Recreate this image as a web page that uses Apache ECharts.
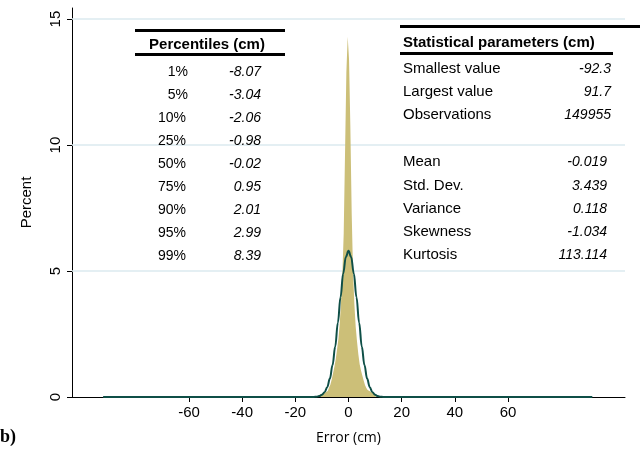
<!DOCTYPE html>
<html>
<head>
<meta charset="utf-8">
<script src="https://cdn.jsdelivr.net/npm/echarts@6/dist/echarts.min.js"></script>
<style>
html, body { margin: 0; padding: 0; background: #fff; }
#chart { width: 640px; height: 453px; }
</style>
</head>
<body>
<div id="chart"></div>
<script>
// histogram: bin centres (cm) and percent per 0.5 cm bin
const histX = [-12.05, -11.55, -11.05, -10.55, -10.05, -9.55, -9.05, -8.55, -8.05, -7.55, -7.05, -6.55, -6.05,
  -5.55, -5.05, -4.55, -4.05, -3.55, -3.05, -2.55, -2.05, -1.55, -1.05, -0.55, -0.05,
  0.45, 0.95, 1.45, 1.95, 2.45, 2.95, 3.45, 3.95, 4.45, 4.95, 5.45, 5.95, 6.45, 6.95,
  7.45, 7.95, 8.45, 8.95, 9.45, 9.95, 10.45, 10.95, 11.45, 11.95];
const histPct = [0, 0.06, 0.08, 0.1, 0.12, 0.14, 0.17, 0.2, 0.24, 0.3, 0.38, 0.5, 0.7,
  0.95, 1.2, 1.5, 1.9, 2.3, 2.9, 3.8, 4.9, 6.5, 9.7, 12.9, 14.3,
  13.4, 10.7, 7.3, 5.0, 3.7, 2.8, 2.2, 1.7, 1.3, 1.05, 0.85, 0.65, 0.48, 0.36,
  0.28, 0.22, 0.18, 0.15, 0.12, 0.1, 0.08, 0.06, 0.05, 0];

// normal density overlay
const normX = [-92.3, -14, -13, -12, -11, -10, -9, -8, -7, -6, -5, -4, -3, -2, -1, 0,
  1, 2, 3, 4, 5, 6, 7, 8, 9, 10, 11, 12, 13, 14, 91.7];
const normPct = [0, 0, 0.004, 0.013, 0.035, 0.085, 0.19, 0.39, 0.73, 1.27, 2.0, 2.95, 3.96, 4.9, 5.56, 5.8,
  5.56, 4.9, 3.96, 2.95, 2.0, 1.27, 0.73, 0.39, 0.19, 0.085, 0.035, 0.013, 0.004, 0, 0];

const xTicks = [-60, -40, -20, 0, 20, 40, 60];
const yTicks = [0, 5, 10, 15];
const yGrid = [5, 10, 15];

const pctLabels = ['1%', '5%', '10%', '25%', '50%', '75%', '90%', '95%', '99%'];
const pctValues = ['-8.07', '-3.04', '-2.06', '-0.98', '-0.02', '0.95', '2.01', '2.99', '8.39'];

const statLabels = ['Smallest value', 'Largest value', 'Observations', 'Mean', 'Std. Dev.', 'Variance', 'Skewness', 'Kurtosis'];
const statValues = ['-92.3', '91.7', '149955', '-0.019', '3.439', '0.118', '-1.034', '113.114'];

const FONT = '"Liberation Sans", Arial, sans-serif';
const chart = echarts.init(document.getElementById('chart'));

function txt(text, x, y, size, align, extra) {
  return {
    type: 'text',
    z: 100,
    style: {
      text: text, x: x, y: y,
      fill: '#000',
      font: (extra || '') + ' ' + size + 'px ' + FONT,
      align: align, textAlign: align,
      verticalAlign: 'middle', textVerticalAlign: 'middle'
    }
  };
}
function bar(x, y, w, h) {
  return { type: 'rect', z: 100, shape: { x: x, y: y, width: w, height: h }, style: { fill: '#000' } };
}

let graphics = [];
// percentiles table
graphics.push(bar(135, 29, 150, 3));
graphics.push(txt('Percentiles (cm)', 207, 45, 15, 'center', 'bold'));
graphics.push(bar(135, 53, 150, 3));
const pctRowY = [72, 95, 118, 141, 164, 187, 210, 233, 256];
for (let i = 0; i < pctLabels.length; i++) {
  graphics.push(txt(pctLabels[i], i < 2 ? 188 : 186, pctRowY[i], 14, 'right'));
  graphics.push(txt(pctValues[i], 261, pctRowY[i], 14, 'right', 'italic'));
}
// statistical parameters table
graphics.push(bar(400, 25, 240, 3));
graphics.push(txt('Statistical parameters (cm)', 403, 43, 15, 'left', 'bold'));
graphics.push(bar(400, 52, 213, 3));
const statRowY = [69, 92, 115, 162, 186, 209, 232, 255];
for (let i = 0; i < statLabels.length; i++) {
  graphics.push(txt(statLabels[i], 403, statRowY[i], 15, 'left'));
  graphics.push(txt(statValues[i], i < 3 ? 611 : 607, statRowY[i], 14, 'right', 'italic'));
}
graphics.push({
  type: 'text', left: 0, top: 428, z: 100,
  style: { text: 'b)', fill: '#000', font: 'bold 18px "Liberation Serif", "DejaVu Serif", serif' }
});

chart.setOption({
  animation: false,
  grid: { left: 72, right: 15, top: 8, bottom: 56, containLabel: false },
  xAxis: {
    type: 'value',
    min: -104,
    max: 104,
    name: 'Error (cm)',
    nameLocation: 'middle',
    nameGap: 34,
    nameTextStyle: { fontFamily: '"Open Sans", sans-serif', fontSize: 14, color: '#000' },
    axisLine: { show: true, onZero: false, lineStyle: { color: '#000', width: 1 } },
    axisTick: { show: true, length: 5, customValues: xTicks, lineStyle: { color: '#000' } },
    axisLabel: { customValues: xTicks, margin: 8, fontFamily: FONT, fontSize: 15, color: '#000' },
    splitLine: { show: false }
  },
  yAxis: {
    type: 'value',
    min: 0,
    max: 15.44,
    name: 'Percent',
    nameLocation: 'middle',
    nameGap: 38,
    nameRotate: 90,
    nameTextStyle: { fontFamily: FONT, fontSize: 15, color: '#000' },
    axisLine: { show: true, onZero: false, lineStyle: { color: '#000', width: 1 } },
    axisTick: { show: true, length: 5, customValues: yTicks, lineStyle: { color: '#000' } },
    axisLabel: { customValues: yTicks, rotate: 90, margin: 9, fontFamily: FONT, fontSize: 15, color: '#000' },
    splitLine: { show: false }
  },
  series: [
    {
      name: 'Histogram',
      type: 'line',
      step: 'middle',
      symbol: 'none',
      data: histX.map((x, i) => [x, histPct[i]]),
      lineStyle: { width: 0, color: '#ccbf78' },
      areaStyle: { color: '#ccbf78', opacity: 1 },
      z: 2,
      markLine: {
        silent: true,
        z: 1,
        symbol: 'none',
        label: { show: false },
        lineStyle: { type: 'solid', color: '#dbeaef', width: 1.5 },
        data: yGrid.map(v => ({ yAxis: v }))
      }
    },
    {
      name: 'Normal',
      type: 'line',
      smooth: 0.4,
      smoothMonotone: 'x',
      symbol: 'none',
      data: normX.map((x, i) => [x, normPct[i]]),
      lineStyle: { width: 2, color: '#0f4f47' },
      z: 3
    }
  ],
  graphic: graphics
});
</script>
</body>
</html>
